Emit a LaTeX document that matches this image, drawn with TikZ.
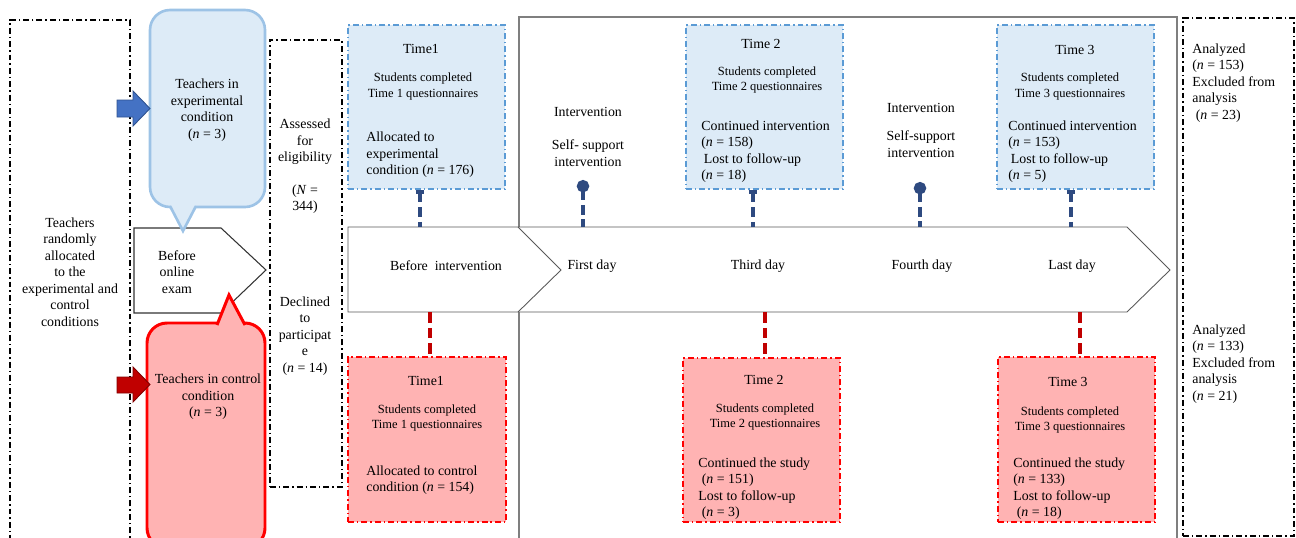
\documentclass[tikz,border=0pt]{standalone}
\usepackage{fontspec}
\setmainfont{Liberation Serif}
\usetikzlibrary{fit,arrows.meta}
\definecolor{lbfill}{HTML}{DDEBF7}
\definecolor{lbline}{HTML}{9DC3E6}
\definecolor{bdash}{HTML}{5B9BD5}
\definecolor{pkfill}{HTML}{FFB3B3}
\definecolor{rline}{HTML}{FF0000}
\definecolor{navy}{HTML}{2E4A80}
\definecolor{dred}{HTML}{C00000}
\definecolor{barrow}{HTML}{4472C4}
\definecolor{barrowl}{HTML}{2F528F}
\definecolor{framegray}{HTML}{7F7F7F}
\definecolor{tlgray}{HTML}{595959}
\newcommand\fmain{\fontsize{7.9pt}{9.4pt}\selectfont}
\newcommand\fsmall{\fontsize{7.1pt}{8.6pt}\selectfont}
\tikzset{
 ddbox/.style={draw=black, line width=0.75pt, dash pattern=on 3.4pt off 1.7pt on 0.8pt off 1.7pt, inner sep=0pt},
 bluebox/.style={draw=bdash, fill=lbfill, line width=0.7pt, dash pattern=on 3.4pt off 1.7pt on 0.8pt off 1.7pt, inner sep=0pt},
 pinkbox/.style={draw=rline, fill=pkfill, line width=0.8pt, dash pattern=on 3.4pt off 1.7pt on 0.8pt off 1.7pt, inner sep=0pt},
 bubbleE/.style={draw=lbline, fill=lbfill, line width=1.5pt, rounded corners=0.4cm, inner sep=0pt},
 bubbleC/.style={draw=rline, fill=pkfill, line width=1.7pt, rounded corners=0.4cm, inner sep=0pt},
 navyline/.style={draw=navy, line width=2.3pt, dash pattern=on 5.5pt off 2.8pt},
 redline/.style={draw=dred, line width=2.3pt, dash pattern=on 6pt off 2.8pt},
 txt/.style={inner sep=0pt, font=\fmain, align=center},
 stxt/.style={inner sep=0pt, font=\fsmall, align=center},
 ltxt/.style={inner sep=0pt, font=\fmain, align=left, anchor=west},
}
\begin{document}
\begin{tikzpicture}[x=0.02cm, y=-0.02cm]
\useasboundingbox (0,0) rectangle (1296,538);
\clip (0,0) rectangle (1296,538);
% left column
\node[ddbox, fit={(10,20) (130,560)}] (leftbox) {};
\node[txt] (lefttxt) at (70,272) {Teachers\\randomly\\allocated\\to the\\experimental and\\control\\conditions};
% before online exam
\draw[black!80, line width=0.6pt, fill=white] (134,228) -- (221,228) -- (266,270) -- (221,313) -- (134,313) -- cycle;
\node[txt] (exam) at (177,272) {Before\\online\\exam};
% experimental bubble
\node[bubbleE, fit={(150,10) (265,207)}] (bubE) {};
\fill[lbfill] (170.5,203) -- (170.5,207) -- (183,231) -- (195.5,207) -- (195.5,203) -- cycle;
\draw[lbline, line width=1.5pt, line join=miter] (170,206) -- (183,231) -- (196,206);
\node[txt] (bubEtxt) at (207,110) {Teachers in\\experimental\\condition\\(\textit{n} = 3)};
% control bubble
\node[bubbleC, fit={(147,323) (265,548)}] (bubC) {};
\fill[pkfill] (217.5,327) -- (217.5,323) -- (229,295) -- (244.5,323) -- (244.5,327) -- cycle;
\draw[rline, line width=1.7pt, line join=miter] (217,325) -- (229,295) -- (245,325);
\node[txt] (bubCtxt) at (208,397) {Teachers in control\\condition\\(\textit{n} = 3)};
% block arrows
\draw[fill=barrow, draw=barrowl, line width=0.5pt] (117,100) -- (133,100) -- (133,91) -- (150,108.5) -- (133,126) -- (133,117) -- (117,117) -- cycle;
\draw[fill=dred, draw=red!50!black, line width=0.5pt] (117,377) -- (133,377) -- (133,367) -- (150,384.5) -- (133,402) -- (133,393) -- (117,393) -- cycle;
% assessed box
\node[ddbox, fit={(270,40) (342,487)}] (assess) {};
\node[txt] (asstxt) at (305,142) {Assessed\\for\\eligibility};
\node[txt] (asstxt2) at (305,199) {(\textit{N} =\\344)};
\node[txt] (decl) at (305,336) {Declined\\to\\participat\\e\\(\textit{n} = 14)};
% frame
\node[draw=framegray, line width=0.6pt, fit={(519,17) (1177,560)}, inner sep=0pt] (frame) {};
% timeline
\draw[tlgray, line width=0.5pt, fill=white] (348,227) -- (1127,227) -- (1170,270) -- (1127,312) -- (348,312) -- cycle;
\draw[tlgray, line width=0.5pt] (518,227) -- (561,270) -- (518,312);
\node[inner sep=0pt, fit={(348,227) (1127,312)}] (tl) {};
\node[txt] (d0) at (446,266) {Before\ \ intervention};
\node[txt] (d1) at (592,266) {First day};
\node[txt] (d3) at (758,266) {Third day};
\node[txt] (d4) at (922,266) {Fourth day};
\node[txt] (d5) at (1072,266) {Last day};
% blue boxes
\node[bluebox, fit={(348,25) (505,189)}] (b1) {};
\node[bluebox, fit={(686,25) (843,189)}] (b2) {};
\node[bluebox, fit={(997,25) (1154,189)}] (b3) {};
\node[txt] (b1t) at (421,49) {Time1};
\node[stxt] (b1s) at (423,86.5) {Students completed\\Time 1 questionnaires};
\node[ltxt] (b1a) at (366,155) {Allocated to\\experimental\\condition (\textit{n} = 176)};
\node[txt] (b2t) at (761,44) {Time 2};
\node[stxt] (b2s) at (767,80) {Students completed\\Time 2 questionnaires};
\node[ltxt] (b2a) at (701,151.5) {Continued intervention\\(\textit{n} = 158)\\\hspace*{1.5pt}Lost to follow-up\\(\textit{n} = 18)};
\node[txt] (b3t) at (1075,50) {Time 3};
\node[stxt] (b3s) at (1070,86.5) {Students completed\\Time 3 questionnaires};
\node[ltxt] (b3a) at (1008,151.5) {Continued intervention\\(\textit{n} = 153)\\\hspace*{1.5pt}Lost to follow-up\\(\textit{n} = 5)};
% intervention labels
\node[txt] (i1t) at (588,112) {Intervention};
\node[txt] (i1s) at (588,153) {Self- support\\intervention};
\node[txt] (i2t) at (921,108) {Intervention};
\node[txt] (i2s) at (921,144) {Self-support\\intervention};
% pink boxes
\node[pinkbox, fit={(348,357) (506,522)}] (r1) {};
\node[pinkbox, fit={(683,358) (840,522)}] (r2) {};
\node[pinkbox, fit={(998,357) (1155,522)}] (r3) {};
\node[txt] (r1t) at (426,381) {Time1};
\node[stxt] (r1s) at (427,418) {Students completed\\Time 1 questionnaires};
\node[ltxt] (r1a) at (366,480) {Allocated to control\\condition (\textit{n} = 154)};
\node[txt] (r2t) at (764,380) {Time 2};
\node[stxt] (r2s) at (765,417) {Students completed\\Time 2 questionnaires};
\node[ltxt] (r2a) at (698,488.5) {Continued the study\\\hspace*{2pt}(\textit{n} = 151)\\Lost to follow-up\\\hspace*{2pt}(\textit{n} = 3)};
\node[txt] (r3t) at (1068,382) {Time 3};
\node[stxt] (r3s) at (1070,420) {Students completed\\Time 3 questionnaires};
\node[ltxt] (r3a) at (1013,488.5) {Continued the study\\(\textit{n} = 133)\\Lost to follow-up\\\hspace*{2pt}(\textit{n} = 18)};
% connectors
\coordinate (i1) at (583,180);
\coordinate (i2) at (920,182);
\draw[navyline, {Bar[width=5pt]}-] (420,0 |- b1.south) -- (420,0 |- tl.north);
\draw[navyline, {Bar[width=5pt]}-] (753,0 |- b2.south) -- (753,0 |- tl.north);
\draw[navyline, {Bar[width=5pt]}-] (1071,0 |- b3.south) -- (1071,0 |- tl.north);
\draw[navyline, {Circle[length=7pt]}-] (i1) -- (i1 |- tl.north);
\draw[navyline, {Circle[length=7pt]}-] (i2) -- (i2 |- tl.north);
\draw[redline] (430,0 |- tl.south) -- (430,0 |- r1.north);
\draw[redline] (765,0 |- tl.south) -- (765,0 |- r2.north);
\draw[redline] (1080,0 |- tl.south) -- (1080,0 |- r3.north);
% right column
\node[ddbox, fit={(1183,18) (1294,536)}] (rightbox) {};
\node[ltxt] (an1) at (1192,83) {Analyzed\\(\textit{n} = 153)\\Excluded from\\analysis\\\hspace*{2pt}(\textit{n} = 23)};
\node[ltxt] (an2) at (1192,364) {Analyzed\\(\textit{n} = 133)\\Excluded from\\analysis\\(\textit{n} = 21)};
\end{tikzpicture}
\end{document}
